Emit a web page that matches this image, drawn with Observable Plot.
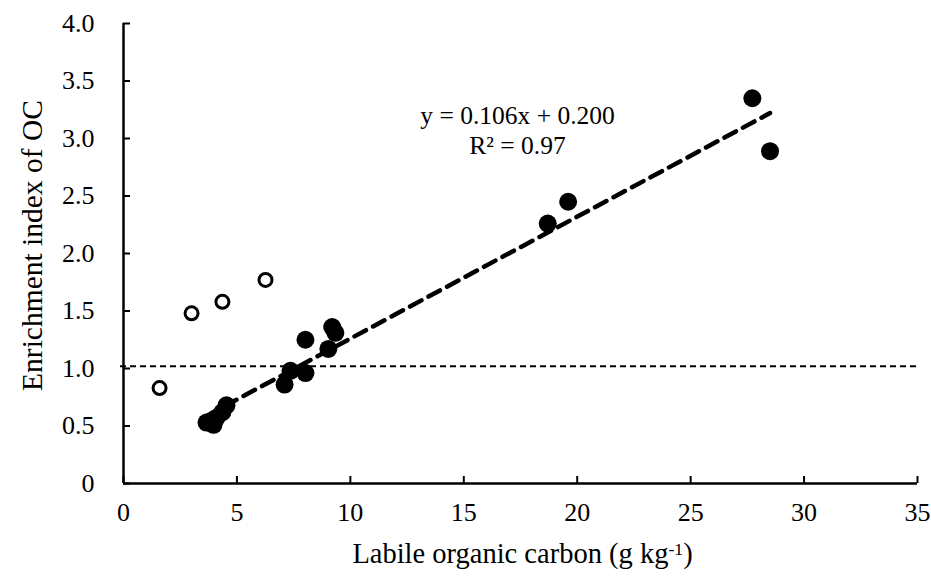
<!DOCTYPE html>
<html>
<head>
<meta charset="utf-8">
<script src="https://cdn.jsdelivr.net/npm/d3@7"></script>
<script src="https://cdn.jsdelivr.net/npm/@observablehq/plot@0.6"></script>
<style>
  html, body { margin: 0; padding: 0; background: #fff; }
</style>
</head>
<body>
<div id="chart"></div>
<script>
// Filled circles (fitted series)
const filledX = [27.72, 28.5, 19.6, 18.7, 8.02, 9.2, 9.34, 9.03, 8.02, 7.36, 7.1, 4.54, 4.36, 4.1, 3.66, 3.97];
const filledY = [3.35, 2.89, 2.45, 2.26, 1.25, 1.36, 1.31, 1.17, 0.96, 0.98, 0.86, 0.68, 0.62, 0.57, 0.53, 0.51];
// Open circles
const openX = [1.59, 3.0, 4.36, 6.26];
const openY = [0.83, 1.48, 1.58, 1.77];
// Axis ticks
const xTicks = [0, 5, 10, 15, 20, 25, 30, 35];
const yTicks = [0, 0.5, 1.0, 1.5, 2.0, 2.5, 3.0, 3.5, 4.0];
// Regression (from the chart's equation)
const slope = 0.106;
const intercept = 0.200;
const refLevel = [1.02];
const eqLabel = "y = 0.106x + 0.200";
const r2Label = "R² = 0.97";
const xLabel = "Labile organic carbon (g kg-1)";
const yLabel = "Enrichment index of OC";

const filled = filledX.map((x, i) => ({x, y: filledY[i]}));
const open = openX.map((x, i) => ({x, y: openY[i]}));
const [tx0, tx1] = d3.extent(filledX);
const trend = [tx0, tx1].map(x => ({x, y: slope * x + intercept}));

const chart = Plot.plot({
  width: 931,
  height: 579,
  marginLeft: 123,
  marginRight: 14,
  marginTop: 23,
  marginBottom: 96,
  x: {domain: [0, 35]},
  y: {domain: [0, 4]},
  style: {fontFamily: "'Liberation Serif', 'Times New Roman', serif", fontSize: "26px", color: "black", background: "white"},
  marks: [
    Plot.ruleY(refLevel, {stroke: "black", strokeWidth: 2, strokeDasharray: "6,4", insetLeft: -3}),
    Plot.line(trend, {x: "x", y: "y", stroke: "black", strokeWidth: 4.5, strokeDasharray: "13,8"}),
    Plot.dot(filled, {x: "x", y: "y", r: 9, fill: "black", stroke: "none"}),
    Plot.dot(open, {x: "x", y: "y", r: 6.5, fill: "white", stroke: "black", strokeWidth: 3}),
    Plot.axisX({ticks: xTicks, tickSize: 7, dy: -7, strokeWidth: 2, tickFormat: () => "", label: null}),
    Plot.axisX({ticks: xTicks, tickSize: 0, tickPadding: 19, label: null, tickFormat: d => String(d)}),
    Plot.axisY({ticks: yTicks, tickSize: 7, dx: 7, strokeWidth: 2, tickFormat: () => "", label: null}),
    Plot.axisY({ticks: yTicks, tickSize: 0, tickPadding: 29, label: null, tickFormat: d => d === 0 ? "0" : d.toFixed(1)}),
    Plot.ruleX([0], {stroke: "black", strokeWidth: 2.5}),
    Plot.ruleY([0], {stroke: "black", strokeWidth: 2.5}),
    Plot.text([eqLabel], {text: d => d, frameAnchor: "top-left", dx: 394, dy: 92, fontSize: 25.5, textAnchor: "middle", lineAnchor: "middle"}),
    Plot.text([r2Label], {text: d => d, frameAnchor: "top-left", dx: 394, dy: 122, fontSize: 25.5, textAnchor: "middle", lineAnchor: "middle"}),
    Plot.text([yLabel], {text: d => d, frameAnchor: "left", dx: -91, dy: -8, rotate: -90, fontSize: 29.5, textAnchor: "middle", lineAnchor: "middle"}),
    Plot.text([xLabel], {text: d => d, frameAnchor: "bottom", dy: 70, dx: 2, fontSize: 28.5, textAnchor: "middle", lineAnchor: "middle"})
  ]
});
document.getElementById("chart").appendChild(chart);

// superscript in the x label
d3.select(chart).selectAll("text").filter(function() { return this.textContent === xLabel; })
  .each(function() {
    const t = d3.select(this);
    t.text(null);
    t.append("tspan").text("Labile organic carbon (g kg");
    t.append("tspan").attr("dy", "-0.45em").attr("font-size", "0.62em").text("-1");
    t.append("tspan").attr("dy", "0.28em").text(")");
  });
</script>
</body>
</html>
